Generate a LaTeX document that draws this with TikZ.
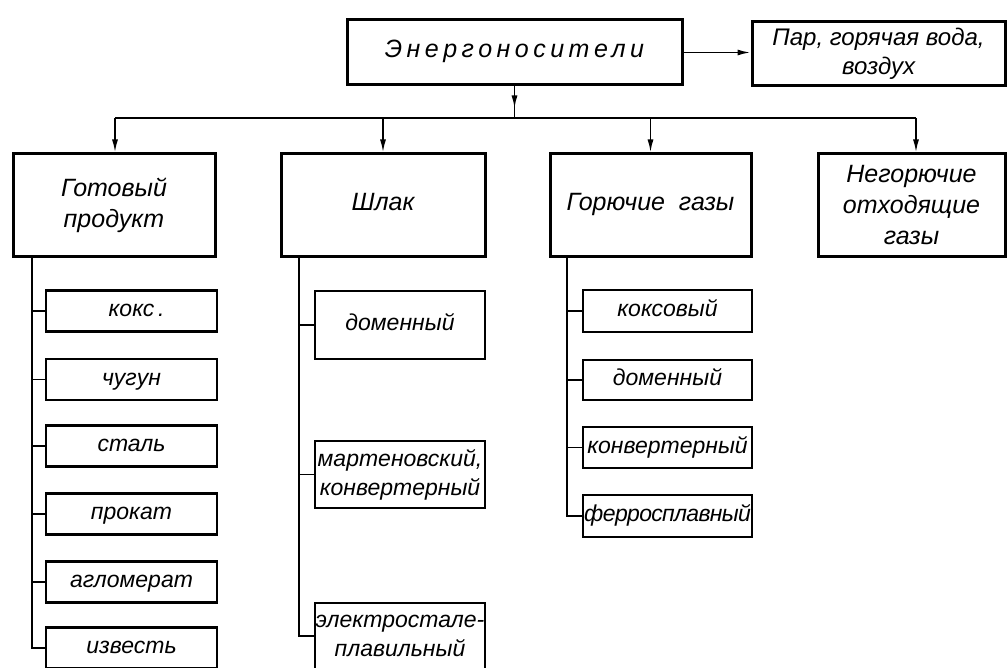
\documentclass[tikz,border=0pt]{standalone}
\usepackage{fontspec}
\setmainfont{Liberation Sans}
\usetikzlibrary{arrows.meta}
\begin{document}
\begin{tikzpicture}[x=1pt,y=-1pt,
  box/.style={draw, line width=3pt, inner sep=0pt, align=center,
    font=\fontsize{25}{31}\selectfont\itshape},
  sub/.style={box, line width=2.8pt, font=\fontsize{23}{29}\selectfont\itshape},
  one/.style={text height=16pt, text depth=5pt},
  conn/.style={line width=1.7pt},
  arr/.style={conn,-{Latex[length=13pt,width=6pt]}},
]
\fill[white] (0,0) rectangle (1007,668);
\useasboundingbox (0,0) rectangle (1007,668);

% top level
\node[box, one, minimum width=335pt, minimum height=65pt] (top) at (514.5,52.5)
  {\addfontfeature{LetterSpace=18}Энергоносители};
\node[box, minimum width=253pt, minimum height=64pt, font=\fontsize{24}{29}\selectfont\itshape] (par) at (878.5,54)
  {Пар, горячая вода,\\воздух};

% second level
\node[box, minimum width=202pt, minimum height=103pt] (gp) at (114,205.5) {Готовый\\продукт};
\node[box, one, minimum width=204pt, minimum height=103pt] (shl) at (383,205.5) {Шлак};
\node[box, one, minimum width=201pt, minimum height=103pt] (gor) at (650.5,205.5) {Горючие\ \ газы};
\node[box, minimum width=187pt, minimum height=103pt] (neg) at (911.5,205.5) {Негорючие\\отходящие\\газы};

% connectors top
\path (top.south) ++(0,33) coordinate (bus);
\coordinate (bL) at (115,118);
\coordinate (bR) at (916,118);
\draw[conn] (top.south) -- (bus);
\draw[arr] (top.south) -- ++(0,22);
\draw[conn] (bL) -- (bR);
\draw[arr] (bL) -- (bL |- gp.north);
\draw[arr] (bus -| shl.north) -- (shl.north);
\draw[arr] (bus -| gor.north) -- (gor.north);
\draw[arr] (bR) -- (bR |- neg.north);
\draw[arr] (top.east) -- (top.east -| par.west);

% column 1
\begin{scope}[every node/.style={sub, one, minimum width=171pt, minimum height=41pt}]
\node (a1) at (131.5,311) {кокс\rlap{\,.}};
\node (a2) at (131.5,379.5) {чугун};
\node (a3) at (131.5,446) {сталь};
\node (a4) at (131.5,514) {прокат};
\node (a5) at (131.5,582) {агломерат};
\node (a6) at (131.5,648) {известь};
\end{scope}
\coordinate (s1) at (32,0);
\draw[conn] (s1 |- gp.south) -- (s1 |- a6.west) -- (a6.west);
\foreach \n in {a1,a2,a3,a4,a5} \draw[conn] (s1 |- \n.west) -- (\n.west);

% column 2
\begin{scope}[every node/.style={sub, minimum width=170pt}]
\node[one, minimum height=68pt] (b1) at (400,325) {доменный};
\node[minimum height=67pt] (b2) at (400,474.5) {мартеновский,\\конвертерный};
\node[minimum height=66pt] (b3) at (400,636) {электростале-\\плавильный};
\end{scope}
\coordinate (s2) at (299,0);
\draw[conn] (s2 |- shl.south) -- (s2 |- b3.west) -- (b3.west);
\foreach \n in {b1,b2} \draw[conn] (s2 |- \n.west) -- (\n.west);

% column 3
\begin{scope}[every node/.style={sub, one, minimum width=169pt}]
\node[minimum height=42pt] (c1) at (667.5,311) {коксовый};
\node[minimum height=40pt] (c2) at (667.5,380) {доменный};
\node[minimum height=41pt] (c3) at (667.5,447.5) {конвертерный};
\node[minimum height=42pt] (c4) at (667.5,516) {\addfontfeature{LetterSpace=-3}ферросплавный};
\end{scope}
\coordinate (s3) at (567,0);
\draw[conn] (s3 |- gor.south) -- (s3 |- c4.west) -- (c4.west);
\foreach \n in {c1,c2,c3} \draw[conn] (s3 |- \n.west) -- (\n.west);
\end{tikzpicture}
\end{document}
